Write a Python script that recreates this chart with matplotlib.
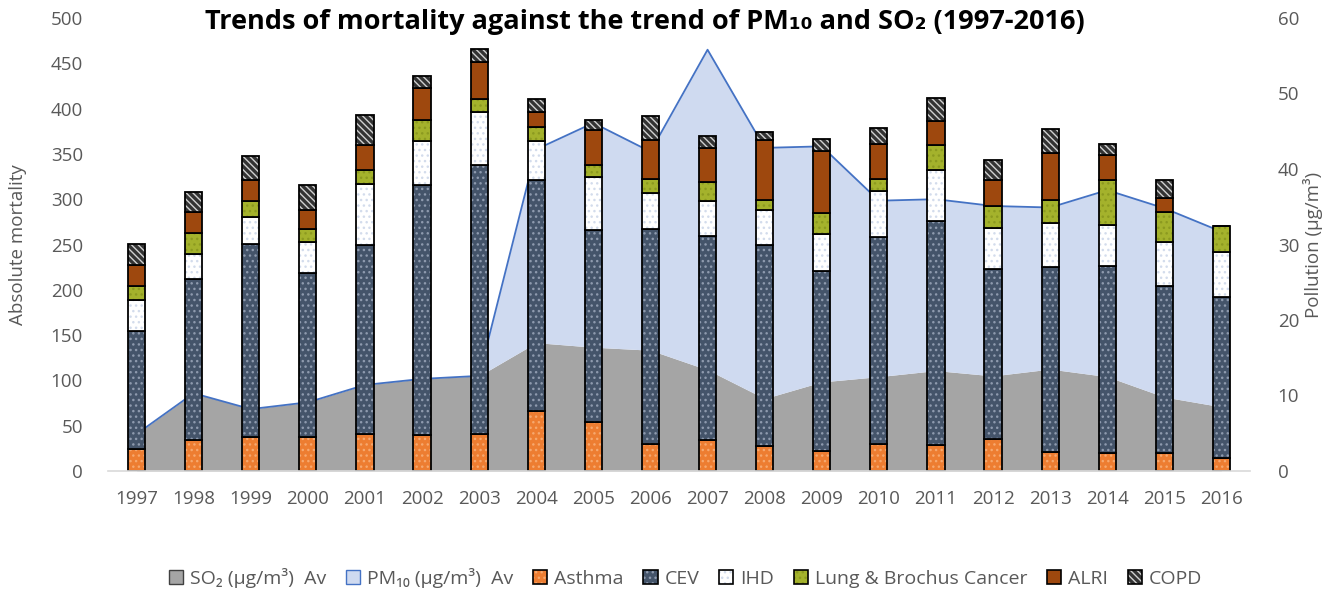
import matplotlib
matplotlib.use("Agg")
import matplotlib.pyplot as plt
import numpy as np
from matplotlib.patches import Patch

plt.rcParams["font.family"] = ["Open Sans", "DejaVu Sans"]
plt.rcParams["hatch.linewidth"] = 1.0

years = [str(y) for y in range(1997, 2017)]

# pollution (right axis, µg/m³), stacked areas
so2 = [4.9, 10.3, 8.2, 9.1, 11.4, 12.2, 12.6, 17.0, 16.4, 16.0,
       13.4, 9.6, 11.8, 12.5, 13.3, 12.6, 13.5, 12.5, 9.8, 8.5]
pm10 = [0, 0, 0, 0, 0, 0, 0, 25.6, 29.7, 26.3,
        42.4, 33.2, 31.2, 23.3, 22.7, 22.5, 21.4, 24.7, 25.0, 23.2]

# mortality (left axis), stacked bars
asthma = [24.5, 33.7, 37.4, 37.4, 41.0, 39.2, 41.0, 66.1, 53.9, 30.0,
          33.7, 28.1, 21.9, 30.0, 29.2, 35.5, 20.8, 20.1, 20.1, 14.6]
cev = [129.9, 177.7, 213.3, 181.3, 207.9, 276.0, 297.3, 254.6, 212.3, 237.6,
       226.1, 220.8, 198.7, 228.1, 246.2, 187.6, 204.2, 206.7, 183.9, 178.0]
ihd = [34.6, 28.3, 30.2, 33.9, 68.1, 48.9, 57.8, 43.4, 58.1, 39.4,
       38.0, 39.4, 41.2, 50.8, 56.3, 44.9, 49.0, 45.0, 48.6, 48.9]
lung = [14.7, 22.8, 17.3, 14.7, 14.7, 22.8, 14.7, 15.4, 13.6, 15.5,
        20.9, 11.3, 23.2, 13.6, 28.3, 24.3, 24.6, 48.9, 33.8, 28.4]
alri = [23.9, 23.9, 23.5, 21.0, 28.3, 35.7, 40.1, 16.2, 39.0, 43.0,
        37.6, 65.9, 67.7, 38.6, 26.1, 29.4, 52.2, 28.3, 15.1, 0]
copd = [23.1, 21.4, 25.8, 27.6, 33.1, 13.6, 15.1, 14.4, 10.7, 25.8,
        14.0, 8.5, 14.0, 17.3, 25.4, 22.1, 26.9, 11.4, 19.9, 0]

series = [
    ("Asthma", asthma, "#ED7D31", "#F6A86E", "..."),
    ("CEV", cev, "#44546A", "#8E9AAE", "..."),
    ("IHD", ihd, "#FFFFFF", "#D3DCEC", "..."),
    ("Lung & Brochus Cancer", lung, "#A4B22C", "#8C9A20", "..."),
    ("ALRI", alri, "#9E480E", "#9E480E", None),
    ("COPD", copd, "#333333", "#D0D0D0", "\\\\\\\\\\"),
]

TXT = "#595959"
fig = plt.figure(figsize=(13.39, 5.94), dpi=100)
ax = fig.add_axes([108 / 1339, 123 / 594, 1142 / 1339, 453 / 594])
ax2 = ax.twinx()
ax.set_zorder(ax2.get_zorder() + 1)
ax.patch.set_visible(False)

x = np.arange(len(years))

so2_a = np.array(so2)
top = so2_a + np.array(pm10)
ax2.fill_between(x, 0, so2_a, color="#A5A5A5", lw=0)
ax2.fill_between(x, so2_a, top, color="#CFDAF0", lw=0)
ax2.plot(x, top, color="#4472C4", lw=1.3)

handles = [Patch(facecolor="#A5A5A5", edgecolor="#404040"),
           Patch(facecolor="#CFDAF0", edgecolor="#4472C4")]
labels = ["SO\u2082 (\u00b5g/m\u00b3)  Av", "PM\u2081\u2080 (\u00b5g/m\u00b3)  Av"]

bottom = np.zeros(len(years))
w = 0.3
for name, vals, fc, hc, hatch in series:
    v = np.array(vals)
    ax.bar(x, v, w, bottom=bottom, color=fc, edgecolor=hc, hatch=hatch, lw=0)
    ax.bar(x, v, w, bottom=bottom, fill=False, edgecolor="black", lw=1.3)
    bottom += v
    h1 = Patch(facecolor=fc, edgecolor=hc, hatch=hatch, lw=0)
    h2 = Patch(fill=False, edgecolor="black", lw=1.2)
    handles.append((h1, h2))
    labels.append(name)

ax.set_xlim(-0.5, len(years) - 0.5)
ax.set_ylim(0, 500)
ax2.set_ylim(0, 60)
ax.set_yticks(range(0, 501, 50))
ax2.set_yticks(range(0, 61, 10))
ax.set_xticks(x)
ax.set_xticklabels(years)

for a in (ax, ax2):
    for s in a.spines.values():
        s.set_visible(False)
    a.tick_params(length=0, labelsize=13.5, labelcolor=TXT)
ax.spines["bottom"].set_visible(True)
ax.spines["bottom"].set_color("#D9D9D9")
ax.spines["bottom"].set_linewidth(1.2)
ax.tick_params(axis="y", pad=18)
ax.tick_params(axis="x", pad=14)
ax2.tick_params(axis="y", pad=20)

ax.set_ylabel("Absolute mortality", fontsize=13.5, color=TXT)
ax.yaxis.set_label_coords(-0.071, 0.5)
ax2.set_ylabel("Pollution (\u00b5g/m\u00b3)", fontsize=13.5, color=TXT)
ax2.yaxis.set_label_coords(1.046, 0.5)

fig.text(645 / 1339, 1 - 22 / 594,
         "Trends of mortality against the trend of PM\u2081\u2080 and SO\u2082 (1997-2016)",
         ha="center", va="center", fontsize=19.5, fontweight="bold")

fig.legend(handles, labels, loc="center", bbox_to_anchor=(0.512, 1 - 578 / 594),
           ncol=8, frameon=False, fontsize=14, labelcolor=TXT,
           handlelength=0.75, handleheight=0.75, handletextpad=0.35,
           columnspacing=1.0)

fig.savefig("out.png", dpi=100)
